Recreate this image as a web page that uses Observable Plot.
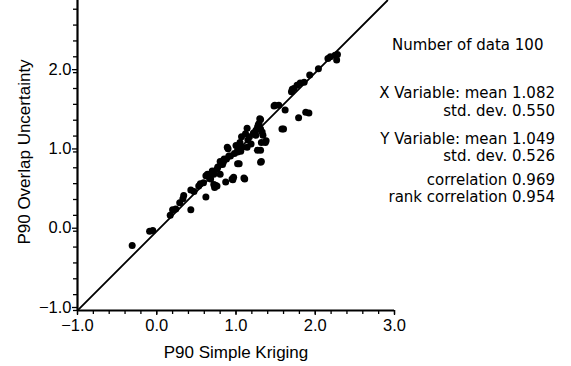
<!DOCTYPE html>
<html>
<head>
<meta charset="utf-8">
<script src="https://cdn.jsdelivr.net/npm/d3@7"></script>
<script src="https://cdn.jsdelivr.net/npm/@observablehq/plot@0.6"></script>
<style>
  html, body { margin: 0; padding: 0; background: #fff; }
  #chart { position: relative; width: 571px; height: 366px; }
  svg { font-family: "Liberation Sans", Arial, Helvetica, sans-serif; }
</style>
</head>
<body>
<div id="chart"></div>
<script>
// Data
const xs = [-0.31,-0.09,-0.05,0.17,0.20,0.24,0.29,0.33,0.34,0.43,0.43,0.53,0.59,0.62,0.62,0.66,0.68,0.70,0.72,0.72,
            0.74,0.73,0.76,0.76,0.77,0.80,0.80,0.83,0.85,0.87,0.88,0.89,0.90,0.91,0.93,0.95,0.96,0.97,1.02,1.02,
            1.02,1.04,1.05,1.07,1.08,1.10,1.11,1.12,1.14,1.14,1.19,1.25,1.25,1.27,1.27,1.28,1.30,1.31,1.31,1.31,
            1.32,1.31,1.33,1.34,1.32,1.37,1.38,1.48,1.49,1.54,1.58,1.60,1.62,1.70,1.71,1.73,1.77,1.79,1.81,1.86,
            1.88,1.92,1.93,2.04,2.16,2.19,2.25,2.27,2.28,0.55,0.64,0.84,0.98,1.00,1.06,1.15,1.22,1.29,0.47,1.17];
const ys = [-0.18,0.00,0.01,0.20,0.27,0.28,0.36,0.41,0.45,0.27,0.52,0.57,0.61,0.43,0.70,0.68,0.66,0.76,0.72,0.59,
            0.58,0.55,0.57,0.78,0.81,0.72,0.88,0.84,0.91,0.62,0.91,1.06,1.04,0.95,0.95,0.66,0.65,0.68,1.00,1.02,
            0.85,0.85,1.12,1.19,1.06,0.67,0.66,1.23,1.30,1.06,1.10,1.21,1.27,1.31,1.02,1.34,1.42,1.41,1.29,1.02,
            0.88,0.87,1.25,1.21,1.12,1.12,1.14,1.58,1.59,1.59,1.29,1.29,1.53,1.76,1.79,1.80,1.84,1.43,1.87,1.88,
            1.50,1.49,1.97,2.05,2.18,2.20,2.22,2.16,2.23,0.60,0.72,0.87,0.98,1.08,1.01,1.15,1.24,1.36,0.50,1.19];
const xDomain = [-1, 3];
const yDomain = [-1, 2.91];
const majorTicks = [-1, 0, 1, 2, 3];
const yMajorTicks = [-1, 0, 1, 2];
const minorStep = 0.2;
const statLines = [
  "X Variable: mean 1.082",
  "std. dev. 0.550",
  "Y Variable: mean 1.049",
  "std. dev. 0.526",
  "correlation 0.969",
  "rank correlation 0.954"
];
const nLabel = "Number of data 100";
const xLabel = "P90 Simple Kriging";
const yLabel = "P90 Overlap Uncertainty";

const FONT = '"Liberation Sans", Arial, Helvetica, sans-serif';
const STAT_FONT = '"DejaVu Sans", "Liberation Sans", Arial, sans-serif';
const FS = 16.5;

const points = xs.map((x, i) => ({x, y: ys[i]}));
const xMinor = d3.range(xDomain[0], xDomain[1] + 1e-9, minorStep).map(v => +v.toFixed(2));
const yMinor = d3.range(yDomain[0], yDomain[1] + 1e-9, minorStep).map(v => +v.toFixed(2));
const diag = [yDomain[0], yDomain[1]].map(v => ({x: v, y: v}));

const plot = Plot.plot({
  width: 571,
  height: 366,
  marginLeft: 77,
  marginRight: 177,
  marginTop: 0,
  marginBottom: 56,
  style: {fontFamily: FONT, fontSize: FS + "px", color: "#000", background: "#fff"},
  x: {domain: xDomain},
  y: {domain: yDomain},
  marks: [
    Plot.axisX({ticks: xMinor, tickSize: 4, tickFormat: () => "", label: null, strokeWidth: 1.3}),
    Plot.axisX({ticks: majorTicks, tickSize: 5, tickPadding: 4, tickFormat: d3.format(".1f"), fontSize: FS, label: null, strokeWidth: 1.3}),
    Plot.axisY({ticks: yMinor, tickSize: 4, tickFormat: () => "", label: null, strokeWidth: 1.3}),
    Plot.axisY({ticks: yMajorTicks, tickSize: 5, tickPadding: 1, tickFormat: d3.format(".1f"), fontSize: FS, dy: -3, label: null, strokeWidth: 1.3}),
    Plot.ruleY([yDomain[0]], {strokeWidth: 2.2}),
    Plot.ruleX([xDomain[0]], {strokeWidth: 2.2}),
    Plot.line(diag, {x: "x", y: "y", stroke: "#000", strokeWidth: 1.8, clip: true}),
    Plot.dot(points, {x: "x", y: "y", r: 3.5, fill: "#000", stroke: null})
  ]
});
plot.style.overflow = "visible";
document.getElementById("chart").appendChild(plot);

// Titles and statistics block drawn as SVG text
const svg = d3.select(plot);
const g = svg.append("g").attr("font-family", FONT).attr("font-size", 17).attr("fill", "#000");
g.append("text").attr("x", 236).attr("y", 358).attr("text-anchor", "middle").text(xLabel);
g.append("text").attr("transform", "translate(30,152) rotate(-90)").attr("text-anchor", "middle").text(yLabel);
const s = svg.append("g").attr("font-family", STAT_FONT).attr("font-size", 15).attr("fill", "#000");
s.append("text").attr("x", 392).attr("y", 50).attr("text-anchor", "start").text(nLabel);
const ysText = [98, 116, 144, 161, 185, 202];
statLines.forEach((t, i) => {
  s.append("text").attr("x", 555).attr("y", ysText[i]).attr("text-anchor", "end").text(t);
});
</script>
</body>
</html>
